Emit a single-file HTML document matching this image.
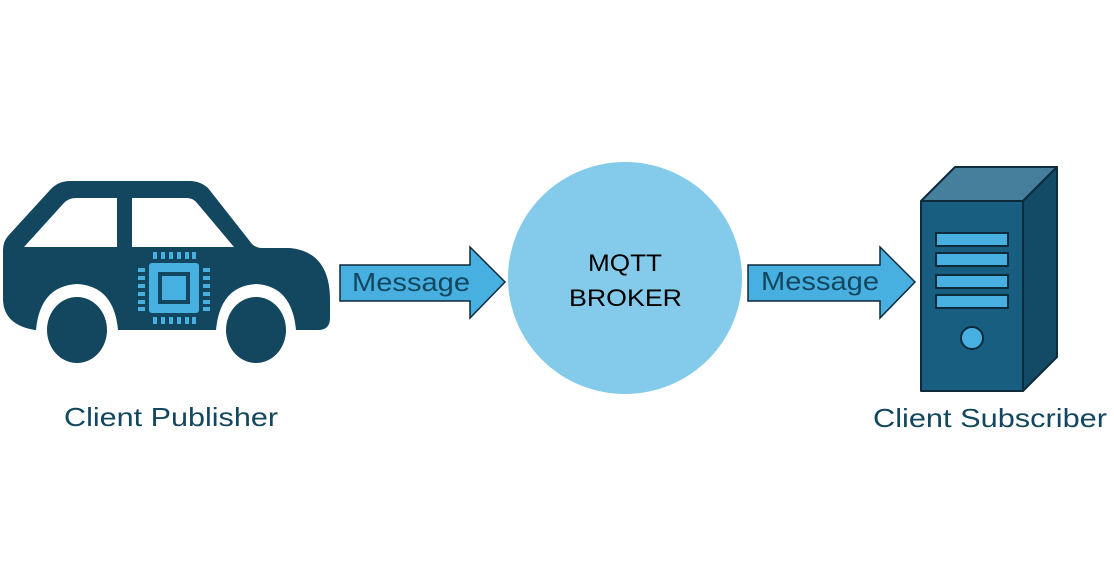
<!DOCTYPE html>
<html><head><style>
body{margin:0;background:#fff;}
</style></head><body>
<svg width="1114" height="577" xmlns="http://www.w3.org/2000/svg" style="display:block">
<rect width="1114" height="577" fill="#fff"/>
<!-- car -->
<g fill="#12475f">
<path d="M70,181 L190,181 Q200,181 208,188 L252,244 Q256,248 262,248 L290,248 Q330,252 330,300 L330,318 Q330,330 318,330 L296,330 Q292,286 256,284 Q220,286 216,330 L118,330 Q114,286 77,284 Q40,286 36,330 L35,330 Q4,325 3,300 L3,250 Q3,242 8,236 L50,190 Q58,181 70,181 Z"/>
<ellipse cx="77" cy="330" rx="30" ry="33"/>
<ellipse cx="256" cy="330" rx="30" ry="33"/>
</g>
<g fill="#fff">
<path d="M24,247 L63,204 Q68,198 76,198 L117,198 L117,247 Z"/>
<path d="M132,198 L187,198 Q193,198 197,203 L234,247 L132,247 Z"/>
</g>
<g fill="#47b0e0">
<rect x="149" y="263" width="50" height="50" rx="3"/>
<rect x="153" y="252" width="4" height="7"/><rect x="161" y="252" width="4" height="7"/><rect x="169" y="252" width="4" height="7"/><rect x="177" y="252" width="4" height="7"/><rect x="185" y="252" width="4" height="7"/><rect x="192" y="252" width="4" height="7"/>
<rect x="153" y="317" width="4" height="7"/><rect x="161" y="317" width="4" height="7"/><rect x="169" y="317" width="4" height="7"/><rect x="177" y="317" width="4" height="7"/><rect x="185" y="317" width="4" height="7"/><rect x="192" y="317" width="4" height="7"/>
<rect x="138" y="268" width="7" height="4"/><rect x="138" y="276" width="7" height="4"/><rect x="138" y="284" width="7" height="4"/><rect x="138" y="292" width="7" height="4"/><rect x="138" y="300" width="7" height="4"/><rect x="138" y="307" width="7" height="4"/>
<rect x="203" y="268" width="7" height="4"/><rect x="203" y="276" width="7" height="4"/><rect x="203" y="284" width="7" height="4"/><rect x="203" y="292" width="7" height="4"/><rect x="203" y="300" width="7" height="4"/><rect x="203" y="307" width="7" height="4"/>
</g>
<rect x="158" y="272" width="32" height="32" fill="#12475f"/>
<rect x="162" y="276" width="24" height="24" fill="#47b0e0"/>
<!-- arrows -->
<path d="M340,265 L470,265 L470,247 L505,282 L470,318 L470,301 L340,301 Z" fill="#47b0e0" stroke="#0d2b3a" stroke-width="1.5"/>
<path d="M748,265 L880,265 L880,247 L915,282 L880,318 L880,301 L748,301 Z" fill="#47b0e0" stroke="#0d2b3a" stroke-width="1.5"/>
<g font-family="Liberation Sans, sans-serif" font-size="26" fill="#12475f">
<text x="352" y="291" textLength="118" lengthAdjust="spacingAndGlyphs">Message</text>
<text x="761" y="290" textLength="118" lengthAdjust="spacingAndGlyphs">Message</text>
</g>
<!-- broker -->
<ellipse cx="625" cy="278" rx="117" ry="116" fill="#84cbeb"/>
<g font-family="Liberation Sans, sans-serif" font-size="24" fill="#000">
<text x="588" y="271" textLength="74" lengthAdjust="spacingAndGlyphs">MQTT</text>
<text x="569" y="306" textLength="113" lengthAdjust="spacingAndGlyphs">BROKER</text>
</g>
<!-- server -->
<g stroke="#0d2b3a" stroke-width="2" stroke-linejoin="round">
<path d="M921,201 L955,167 L1057,167 L1023,201 Z" fill="#467f9b"/>
<path d="M1023,201 L1057,167 L1057,357 L1023,391 Z" fill="#134a66"/>
<rect x="921" y="201" width="102" height="190" fill="#175e80"/>
<g fill="#47b0e0">
<rect x="936" y="233" width="72" height="13"/>
<rect x="936" y="253" width="72" height="13"/>
<rect x="936" y="275" width="72" height="13"/>
<rect x="936" y="295" width="72" height="13"/>
<circle cx="972" cy="338" r="11"/>
</g>
</g>
<g font-family="Liberation Sans, sans-serif" font-size="26" fill="#12475f">
<text x="64" y="426" textLength="214" lengthAdjust="spacingAndGlyphs">Client Publisher</text>
<text x="873" y="427" textLength="234" lengthAdjust="spacingAndGlyphs">Client Subscriber</text>
</g>
</svg>
</body></html>
